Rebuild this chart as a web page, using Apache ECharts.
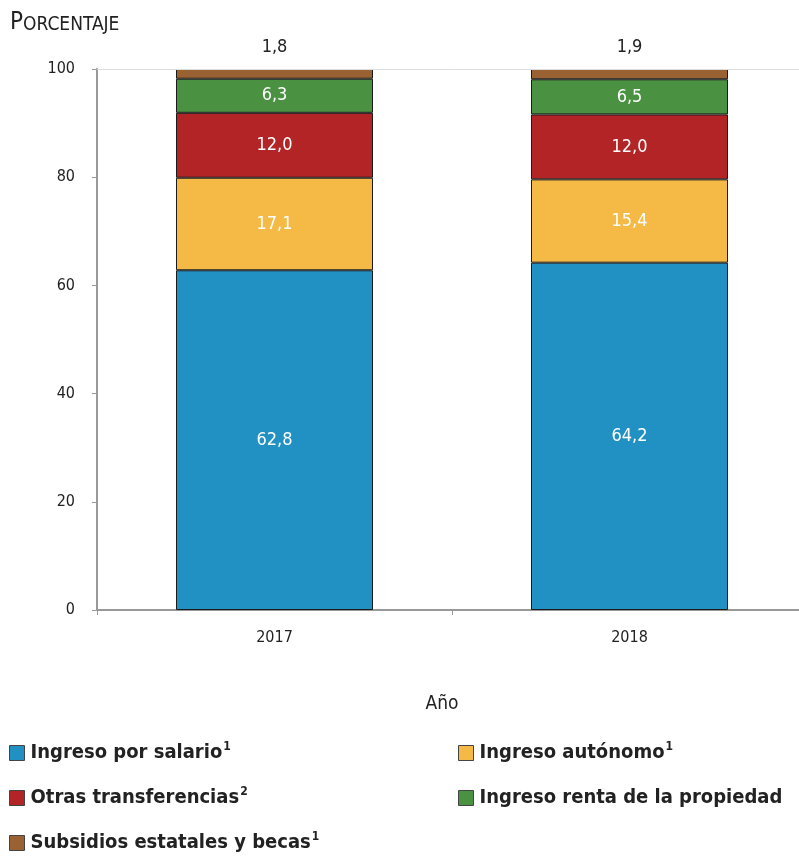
<!DOCTYPE html>
<html>
<head>
<meta charset="utf-8">
<script src="https://cdn.jsdelivr.net/npm/echarts@6/dist/echarts.min.js"></script>
<style>
  html, body { margin: 0; padding: 0; background: #fff; }
  #chart { width: 799px; height: 856px; }
</style>
</head>
<body>
<div id="chart"></div>
<script>
var years = ['2017', '2018']
var seriesNames = ['Ingreso por salario', 'Ingreso autónomo', 'Otras transferencias', 'Ingreso renta de la propiedad', 'Subsidios estatales y becas']
var footnotes = ['1', '1', '2', '', '1']
var colors = ['#2191c4', '#f5b945', '#b22425', '#4a9141', '#9a6233']
var salario = [62.8, 64.2]
var autonomo = [17.1, 15.4]
var transferencias = [12.0, 12.0]
var renta = [6.3, 6.5]
var subsidios = [1.8, 1.9]
var yTicks = [0, 20, 40, 60, 80, 100]

var values = [salario, autonomo, transferencias, renta, subsidios]
var font = 'DejaVu Sans Condensed'

function fmt (v) {
  return v.toFixed(1).replace('.', ',')
}

var chart = echarts.init(document.getElementById('chart'))

var series = []
for (var i = 0; i < seriesNames.length; i++) {
  var last = i === seriesNames.length - 1
  var s = {
    name: seriesNames[i],
    type: 'bar',
    stack: 'total',
    barWidth: '55.5%',
    data: values[i],
    itemStyle: { color: colors[i], borderColor: '#1a1a1a', borderWidth: 1 },
    label: {
      show: true,
      position: last ? 'top' : 'inside',
      distance: 13,
      color: last ? '#222' : '#fff',
      fontFamily: font,
      fontSize: 18,
      formatter: function (p) { return fmt(p.value) }
    },
    emphasis: { disabled: true }
  }
  if (last) {
    s.markLine = {
      silent: true,
      symbol: 'none',
      label: { show: false },
      lineStyle: { color: '#ddd', type: 'solid', width: 1 },
      data: [{ yAxis: yTicks[yTicks.length - 1] }]
    }
  }
  series.push(s)
}

// one legend per entry so they sit in two columns like the original
var legendPos = [
  { left: 9, top: 741 },
  { left: 458, top: 741 },
  { left: 9, top: 786 },
  { left: 458, top: 786 },
  { left: 9, top: 831 }
]
var legends = []
for (var j = 0; j < seriesNames.length; j++) {
  legends.push({
    data: [seriesNames[j]],
    left: legendPos[j].left,
    top: legendPos[j].top,
    padding: 0,
    icon: 'rect',
    itemWidth: 15,
    itemHeight: 15,
    selectedMode: false,
    itemStyle: { borderColor: '#444', borderWidth: 1 },
    formatter: (function (k) {
      return function (name) {
        return '{t|' + name + '}{s|' + (footnotes[k] || ' ') + '}'
      }
    })(j),
    textStyle: {
      rich: {
        t: { fontFamily: font, fontWeight: 'bold', fontSize: 20, color: '#222', padding: [0, 0, 0, 1] },
        s: { fontFamily: font, fontWeight: 'bold', fontSize: 12, color: '#222', verticalAlign: 'top', padding: [0, 0, 12, 1] }
      }
    }
  })
}

var option = {
  animation: false,
  title: {
    text: '{a|P}{b|ORCENTAJE}',
    left: 10,
    top: 11,
    padding: 0,
    textStyle: {
      fontWeight: 'normal',
      rich: {
        a: { fontFamily: font, fontWeight: 'normal', fontSize: 24, color: '#222', verticalAlign: 'bottom' },
        b: { fontFamily: font, fontWeight: 'normal', fontSize: 19, color: '#222', verticalAlign: 'bottom' }
      }
    }
  },
  legend: legends,
  grid: { left: 97, top: 69, width: 710, height: 541, containLabel: false, outerBoundsMode: 'none' },
  xAxis: {
    type: 'category',
    data: years,
    name: 'Año',
    nameLocation: 'middle',
    nameGap: 85,
    nameTextStyle: { fontFamily: font, fontSize: 19, color: '#222', padding: [0, 20, 0, 0] },
    axisLine: { lineStyle: { color: '#999', width: 2 } },
    axisTick: { show: true, length: 5, lineStyle: { color: '#999' } },
    axisLabel: { fontFamily: font, fontSize: 16, color: '#222', margin: 20 }
  },
  yAxis: {
    type: 'value',
    min: 0,
    max: 100,
    interval: 20,
    axisLine: { show: true, lineStyle: { color: '#999', width: 2 } },
    axisTick: { show: true, length: 5, lineStyle: { color: '#999' } },
    axisLabel: { fontFamily: font, fontSize: 16, color: '#222', margin: 22 },
    splitLine: { show: false }
  },
  series: series
}

chart.setOption(option)
</script>
</body>
</html>
